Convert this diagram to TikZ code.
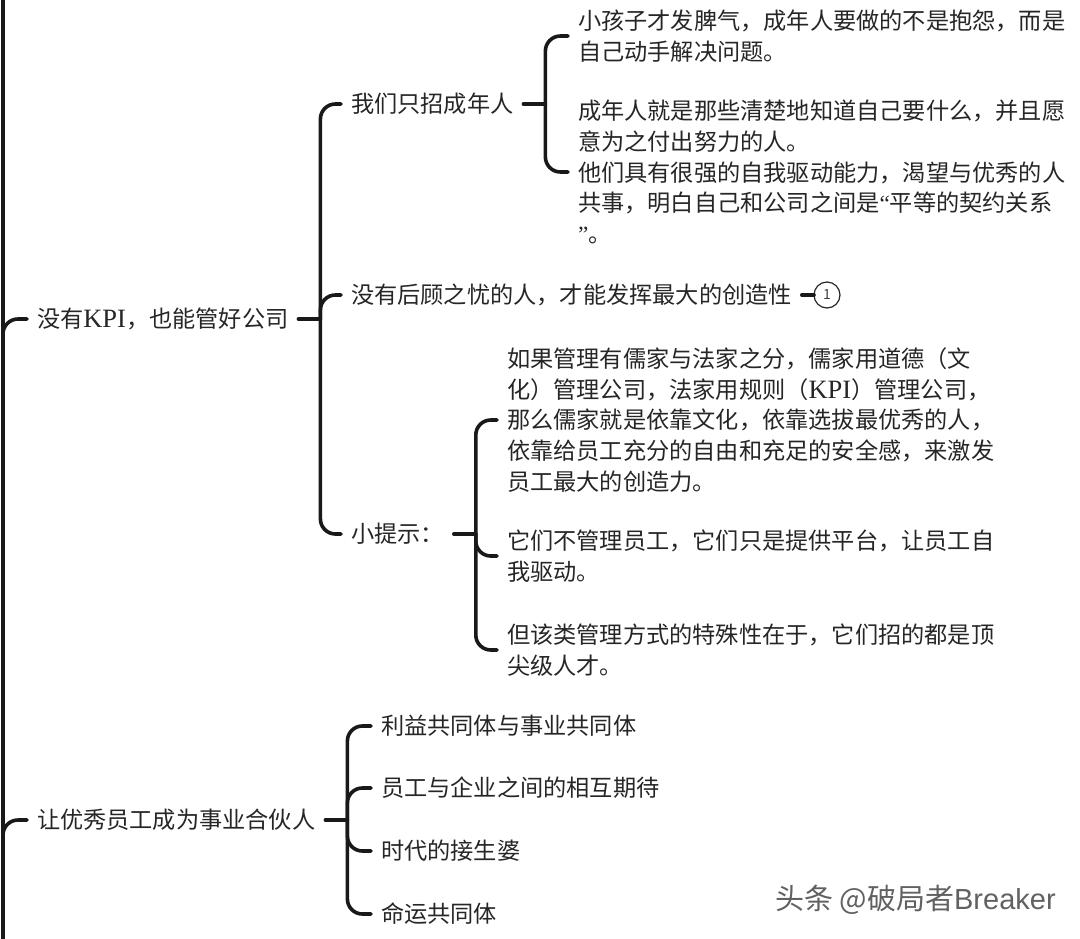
\documentclass[tikz,border=0pt]{standalone}
\usepackage{fontspec}
\setmainfont{Noto Sans CJK SC}[Scale=1.0]
\newfontfamily\latinserif{Liberation Serif}
\newfontfamily\latinserifw{Liberation Serif}[Scale=1.14]
\newfontfamily\latinsans{Liberation Sans}
\newcommand{\kp}{{\latinserifw KPI}}
\newcommand{\fwc}{^^^^ff0c}
\newcommand{\fwl}{^^^^ff08}
\newcommand{\fwr}{^^^^ff09}
\newcommand{\fwk}{^^^^ff1a}
\begin{document}
\begin{tikzpicture}[x=1pt,y=-1pt,
  txt/.style={anchor=west,inner xsep=10pt,inner ysep=0pt,outer sep=0pt,align=left,text=black!85,
    font=\fontsize{23.2}{30.6}\selectfont},
  conn/.style={line width=3.6pt,draw=black!90,line cap=round,rounded corners=15pt},
  trunkline/.style={line width=4.6pt,draw=black!90},
  mark1/.style={circle,draw=black!85,line width=1.2pt,minimum size=26pt,inner sep=0pt,outer sep=0pt,text=black!75,font=\fontsize{14}{16}\selectfont},
  wm/.style={anchor=west,inner sep=0pt,text=black!62,font=\fontsize{29}{32}\selectfont}]
\useasboundingbox (0,0) rectangle (1080,938);
\fill[white] (0,0) rectangle (1080,938);
% main branches
\node[txt] (a) at (27,319) {没有\kp\fwc{}也能管好公司};
\node[txt] (b) at (27,820) {让优秀员工成为事业合伙人};
% level 2 under a
\node[txt] (a1) at (341,104) {我们只招成年人};
\node[txt] (a2) at (341,295) {没有后顾之忧的人\fwc{}才能发挥最大的创造性};
\node[txt] (a3) at (341,534) {小提示\fwk};
% a1 children
\node[txt] (a11) at (568,36) {小孩子才发脾气\fwc{}成年人要做的不是抱怨\fwc{}而是\\自己动手解决问题。};
\node[txt] (a12) at (568,172) {成年人就是那些清楚地知道自己要什么\fwc{}并且愿\\意为之付出努力的人。\\他们具有很强的自我驱动能力\fwc{}渴望与优秀的人\\共事\fwc{}明白自己和公司之间是{\latinserif “}平等的契约关系\\{\latinserif ”}。};
\node[mark1] (a21) at (827,295) {1};
% a3 children
\node[txt] (a31) at (497,420) {如果管理有儒家与法家之分\fwc{}儒家用道德\fwl{}文\\化\fwr{}管理公司\fwc{}法家用规则\fwl\kp\fwr{}管理公司\fwc\\那么儒家就是依靠文化\fwc{}依靠选拔最优秀的人\fwc\\依靠给员工充分的自由和充足的安全感\fwc{}来激发\\员工最大的创造力。};
\node[txt] (a32) at (497,556) {它们不管理员工\fwc{}它们只是提供平台\fwc{}让员工自\\我驱动。};
\node[txt] (a33) at (497,650) {但该类管理方式的特殊性在于\fwc{}它们招的都是顶\\尖级人才。};
% b children
\node[txt] (b1) at (371,726) {利益共同体与事业共同体};
\node[txt] (b2) at (371,788) {员工与企业之间的相互期待};
\node[txt] (b3) at (371,851) {时代的接生婆};
\node[txt] (b4) at (371,914) {命运共同体};
% watermark
\node[wm] (w) at (775,900) {头条 @破局者{\latinsans Breaker}};
% trunk
\coordinate (trunkTop) at (3,-4);
\coordinate (trunkBot) at (3,942);
\draw[trunkline] (trunkTop) -- (trunkBot);
\draw[conn] (trunkBot) |- (a.west);
\draw[conn] (trunkBot) |- (b.west);
% buses
\coordinate (ba) at ([xshift=22pt]a.east);
\coordinate (bb) at ([xshift=22pt]b.east);
\coordinate (ba1) at ([xshift=22pt]a1.east);
\coordinate (ba3) at ([xshift=22pt]a3.east);
\draw[conn] (a.east) -- (ba);
\draw[conn] (ba) |- (a1.west);
\draw[conn] (ba) |- (a2.west);
\draw[conn] (ba) |- (a3.west);
\draw[conn] (a1.east) -- (ba1);
\draw[conn] (ba1) |- (a11.west);
\draw[conn] (ba1) |- (a12.west);
\draw[conn] (a2.east) -- (a21.west);
\draw[conn] (a3.east) -- (ba3);
\draw[conn] (ba3) |- (a31.west);
\draw[conn] (ba3) |- (a32.west);
\draw[conn] (ba3) |- (a33.west);
\draw[conn] (b.east) -- (bb);
\draw[conn] (bb) |- (b1.west);
\draw[conn] (bb) |- (b2.west);
\draw[conn] (bb) |- (b3.west);
\draw[conn] (bb) |- (b4.west);
\end{tikzpicture}
\end{document}
